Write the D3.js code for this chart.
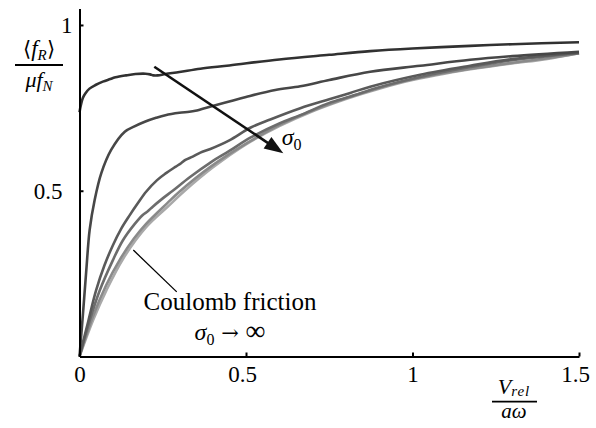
<!DOCTYPE html>
<html>
<head>
<meta charset="utf-8">
<script src="https://cdn.jsdelivr.net/npm/d3@7"></script>
<style>
body { margin: 0; background: #fff; }
svg { font-family: "Liberation Serif", "Times New Roman", serif; }
.it { font-style: italic; }
</style>
</head>
<body>
<svg class="chart"></svg>
<script>
// curves, smallest sigma0 first
const v1 = [0, 0.004, 0.01, 0.018, 0.03, 0.048, 0.07, 0.09, 0.108, 0.14, 0.168, 0.198, 0.212, 0.222, 0.235, 0.258, 0.3, 0.363, 0.45, 0.6, 0.75, 0.873, 1.0, 1.173, 1.3, 1.5];
const f1 = [0.737, 0.758, 0.78, 0.794, 0.808, 0.819, 0.829, 0.836, 0.842, 0.848, 0.852, 0.853, 0.851, 0.848, 0.848, 0.852, 0.858, 0.868, 0.878, 0.896, 0.910, 0.921, 0.929, 0.937, 0.942, 0.948];

const v2 = [0, 0.0105, 0.0205, 0.0305, 0.0455, 0.0655, 0.095, 0.136, 0.165, 0.196, 0.23, 0.258, 0.3, 0.33, 0.348, 0.363, 0.408, 0.5, 0.588, 0.663, 0.75, 0.873, 1.023, 1.173, 1.3, 1.5];
const f2 = [0, 0.13, 0.261, 0.382, 0.472, 0.553, 0.623, 0.678, 0.694, 0.708, 0.72, 0.728, 0.735, 0.738, 0.741, 0.745, 0.758, 0.783, 0.804, 0.815, 0.834, 0.859, 0.877, 0.895, 0.906, 0.919];

const v3 = [0, 0.026, 0.05, 0.075, 0.1, 0.125, 0.15, 0.175, 0.2, 0.233, 0.26, 0.288, 0.305, 0.318, 0.34, 0.363, 0.393, 0.45, 0.513, 0.573, 0.663, 0.75, 0.813, 0.873, 1.023, 1.173, 1.3, 1.5];
const f3 = [0, 0.105, 0.2, 0.275, 0.335, 0.385, 0.425, 0.462, 0.497, 0.532, 0.553, 0.572, 0.583, 0.593, 0.603, 0.615, 0.626, 0.652, 0.69, 0.715, 0.749, 0.776, 0.795, 0.814, 0.85, 0.877, 0.897, 0.916];

const v4 = [0, 0.031, 0.061, 0.1, 0.13, 0.166, 0.19, 0.205, 0.22, 0.25, 0.28, 0.33, 0.393, 0.45, 0.513, 0.6, 0.663, 0.75, 0.813, 0.9, 1.023, 1.173, 1.3, 1.5];
const f4 = [0, 0.11, 0.2, 0.29, 0.35, 0.4, 0.427, 0.438, 0.452, 0.477, 0.5, 0.54, 0.585, 0.62, 0.66, 0.703, 0.728, 0.765, 0.784, 0.812, 0.843, 0.873, 0.894, 0.915];

const v5 = [0, 0.04, 0.08, 0.12, 0.163, 0.2, 0.263, 0.3, 0.393, 0.5, 0.6, 0.7, 0.8, 0.9, 1.0, 1.1, 1.2, 1.3, 1.4, 1.5];
const f5 = [0, 0.12, 0.215, 0.29, 0.355, 0.4, 0.462, 0.497, 0.572, 0.642, 0.698, 0.742, 0.779, 0.81, 0.836, 0.856, 0.872, 0.886, 0.899, 0.915];

// Coulomb friction (sigma0 -> infinity)
const vC = [0, 0.041, 0.081, 0.131, 0.2, 0.263, 0.316, 0.4, 0.5, 0.6, 0.7, 0.8, 0.9, 1.0, 1.1, 1.2, 1.3, 1.4, 1.5];
const fC = [0, 0.11, 0.2, 0.295, 0.39, 0.45, 0.5, 0.57, 0.64, 0.695, 0.74, 0.777, 0.808, 0.834, 0.854, 0.87, 0.884, 0.897, 0.915];

const xTicks = [0, 0.5, 1, 1.5];
const yTicks = [0.5, 1];

const width = 596, height = 428;

const svg = d3.select(".chart")
  .attr("width", width)
  .attr("height", height);

const x = d3.scaleLinear().domain([0, 1.5]).range([79.5, 579]);
const y = d3.scaleLinear().domain([0, 1.05]).range([356.5, 8.4]);

// lightest drawn first so the dark ones sit on top
const series = [
  {v: vC, f: fC, color: "#a9a9a9"},
  {v: v5, f: f5, color: "#8a8a8a"},
  {v: v4, f: f4, color: "#6c6c6c"},
  {v: v3, f: f3, color: "#5a5a5a"},
  {v: v2, f: f2, color: "#474747"},
  {v: v1, f: f1, color: "#313131"}
];

const line = d3.line()
  .x(d => x(d[0]))
  .y(d => y(d[1]))
  .curve(d3.curveCatmullRom.alpha(0.5));

svg.selectAll("path.curve")
  .data(series)
  .enter().append("path")
  .attr("class", "curve")
  .attr("fill", "none")
  .attr("stroke", d => d.color)
  .attr("stroke-width", 2.6)
  .attr("stroke-linejoin", "round")
  .attr("d", d => line(d.v.map((vv, i) => [vv, d.f[i]])));

// axes, ticks point inward
const xAxis = d3.axisBottom(x).tickValues(xTicks).tickSize(-4).tickSizeOuter(0).tickPadding(9)
  .tickFormat(d3.format("~g"));
const yAxis = d3.axisLeft(y).tickValues(yTicks).tickSize(-4).tickSizeOuter(0).tickPadding(17)
  .tickFormat(d3.format("~g"));

const gx = svg.append("g").attr("transform", "translate(0," + y(0) + ")").call(xAxis);
const gy = svg.append("g").attr("transform", "translate(" + x(0) + ",0)").call(yAxis);

[gx, gy].forEach(g => {
  g.attr("font-family", null).attr("font-size", null);
  g.select(".domain").attr("stroke", "#000").attr("stroke-width", 2);
  g.selectAll(".tick line").attr("stroke", "#000").attr("stroke-width", 2);
  g.selectAll(".tick text").attr("fill", "#000").attr("font-size", 23);
});
gx.selectAll(".tick text").attr("dx", d => d % 1 ? -4 : 0);
gy.selectAll(".tick text").attr("x", d => d === 1 ? -7 : -17);

// y label  <f_R> / mu f_N
const yl = svg.append("g").attr("font-size", 23);
const yn = yl.append("text").attr("x", 39).attr("y", 56).attr("text-anchor", "middle");
yn.append("tspan").attr("font-size", 21).text("⟨");
yn.append("tspan").attr("class", "it").text("f");
yn.append("tspan").attr("class", "it").attr("font-size", 15).attr("dy", 4).text("R");
yn.append("tspan").attr("font-size", 21).attr("dy", -4).text("⟩");
yl.append("line").attr("x1", 15).attr("x2", 63).attr("y1", 65).attr("y2", 65)
  .attr("stroke", "#000").attr("stroke-width", 1.8);
const yd = yl.append("text").attr("x", 39).attr("y", 87).attr("text-anchor", "middle").attr("font-size", 22);
yd.append("tspan").attr("class", "it").text("μf");
yd.append("tspan").attr("class", "it").attr("font-size", 15).attr("dy", 4).text("N");

// x label  V_rel / a omega
const xl = svg.append("g").attr("font-size", 22);
const xn = xl.append("text").attr("x", 514).attr("y", 394).attr("text-anchor", "middle");
xn.append("tspan").attr("class", "it").text("V");
xn.append("tspan").attr("class", "it").attr("font-size", 15).attr("dy", 2).attr("letter-spacing", 1).text("rel");
xl.append("line").attr("x1", 492).attr("x2", 537).attr("y1", 401.7).attr("y2", 401.7)
  .attr("stroke", "#000").attr("stroke-width", 1.8);
xl.append("text").attr("x", 514).attr("y", 418).attr("text-anchor", "middle")
  .attr("class", "it").attr("font-size", 21).text("aω");

// arrow: increasing sigma0
const a0 = [0.2246, 0.874], a1 = [0.612, 0.613];
const p0 = [x(a0[0]), y(a0[1])], p1 = [x(a1[0]), y(a1[1])];
const ang = Math.atan2(p1[1] - p0[1], p1[0] - p0[0]);
const headLen = 19, headW = 7;
const base = [p1[0] - headLen * Math.cos(ang), p1[1] - headLen * Math.sin(ang)];
svg.append("line")
  .attr("x1", p0[0]).attr("y1", p0[1]).attr("x2", base[0] + 2 * Math.cos(ang)).attr("y2", base[1] + 2 * Math.sin(ang))
  .attr("stroke", "#111").attr("stroke-width", 2.6);
svg.append("path")
  .attr("fill", "#111")
  .attr("d", "M" + p1 + "L" + [base[0] + headW * Math.sin(ang), base[1] - headW * Math.cos(ang)] +
    "L" + [base[0] - headW * Math.sin(ang), base[1] + headW * Math.cos(ang)] + "Z");

const sig = svg.append("text").attr("x", x(0.607)).attr("y", y(0.637)).attr("font-size", 24);
sig.append("tspan").attr("class", "it").text("σ");
sig.append("tspan").attr("font-size", 16).attr("dy", 5).text("0");

// Coulomb friction annotation
svg.append("line")
  .attr("x1", x(0.1616)).attr("y1", y(0.321)).attr("x2", x(0.292)).attr("y2", y(0.195))
  .attr("stroke", "#000").attr("stroke-width", 1.3);
svg.append("text").attr("x", 230).attr("y", 310).attr("text-anchor", "middle")
  .attr("font-size", 25).text("Coulomb friction");
const inf = svg.append("text").attr("x", 230).attr("y", 340).attr("text-anchor", "middle").attr("font-size", 24);
inf.append("tspan").attr("class", "it").text("σ");
inf.append("tspan").attr("font-size", 16).attr("dy", 5).text("0");
inf.append("tspan").attr("dy", -5).attr("font-family", "DejaVu Serif").attr("font-size", 21).text(" → ");
inf.append("tspan").attr("font-size", 28).text("∞");
</script>
</body>
</html>
